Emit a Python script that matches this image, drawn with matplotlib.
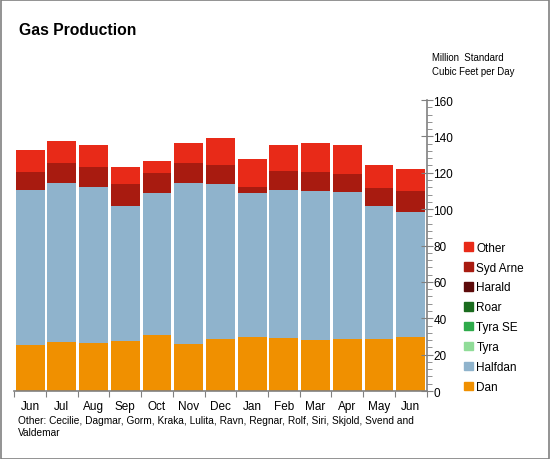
import matplotlib.pyplot as plt
from matplotlib.patches import Rectangle, Patch
from matplotlib.ticker import MultipleLocator
import numpy as np

plt.rcParams['font.family'] = ['Liberation Sans', 'DejaVu Sans']

months = ['Jun', 'Jul', 'Aug', 'Sep', 'Oct', 'Nov', 'Dec', 'Jan', 'Feb', 'Mar', 'Apr', 'May', 'Jun']

# stacked layers (million standard cubic feet per day)
dan      = [25.5, 26.9, 26.6, 27.7, 31.0, 25.8, 28.8, 29.9, 29.1, 28.0, 28.6, 28.6, 29.9]
halfdan  = [85.0, 87.4, 85.5, 74.0, 77.9, 88.5, 85.0, 79.0, 81.4, 81.9, 80.8, 73.1, 68.5]
tyra     = [0] * 13
tyra_se  = [0] * 13
roar     = [0] * 13
harald   = [0] * 13
syd_arne = [9.9, 11.0, 11.0, 12.1, 10.9, 11.0, 10.4, 3.2, 10.4, 10.5, 9.9, 9.9, 11.5]
other    = [12.1, 12.1, 12.1, 9.3, 6.6, 11.0, 14.8, 15.4, 14.3, 15.9, 15.9, 12.6, 12.1]

layers = [
    ('Dan', dan, '#F09000'),
    ('Halfdan', halfdan, '#8FB3CC'),
    ('Tyra', tyra, '#90DC98'),
    ('Tyra SE', tyra_se, '#2EAA4A'),
    ('Roar', roar, '#1A6B1E'),
    ('Harald', harald, '#5C0A0A'),
    ('Syd Arne', syd_arne, '#A81B10'),
    ('Other', other, '#E82A18'),
]

fig = plt.figure(figsize=(5.5, 4.6), dpi=100)
ax = fig.add_axes([0.026, 0.1478, 0.7495, 0.6326])

x = np.arange(len(months))
bottom = np.zeros(len(months))
for name, vals, col in layers:
    ax.bar(x, vals, bottom=bottom, width=0.91, color=col, linewidth=0)
    bottom += np.array(vals)

ax.set_xlim(-0.5, len(months) - 0.5)
ax.set_ylim(0, 160)

grey = '#808080'
for s in ['left', 'top']:
    ax.spines[s].set_visible(False)
for s in ['bottom', 'right']:
    ax.spines[s].set_color(grey)
    ax.spines[s].set_linewidth(1.2)

ax.yaxis.tick_right()
ax.yaxis.set_major_locator(MultipleLocator(20))
ax.yaxis.set_minor_locator(MultipleLocator(4))
ax.tick_params(axis='y', which='major', direction='inout', length=8, color=grey,
               labelsize=8.5, pad=1)
ax.tick_params(axis='y', which='minor', direction='out', length=3.5, color=grey)

ax.set_xticks(np.arange(-0.5, len(months), 1))
ax.set_xticklabels([])
ax.set_xticks(x, minor=True)
ax.set_xticklabels(months, minor=True)
ax.tick_params(axis='x', which='major', direction='out', length=4, color=grey)
ax.tick_params(axis='x', which='minor', length=0, labelsize=8.5, pad=6.5)

fig.text(19 / 550, 1 - 31 / 460, 'Gas Production', fontsize=11.3, fontweight='bold', va='center')
fig.text(432 / 550, 1 - 65 / 460, 'Million  Standard\nCubic Feet per Day', fontsize=6.9,
         va='center', linespacing=1.45)
fig.text(18 / 550, 1 - 427 / 460,
         'Other: Cecilie, Dagmar, Gorm, Kraka, Lulita, Ravn, Regnar, Rolf, Siri, Skjold, Svend and\nValdemar',
         fontsize=7.3, va='center', linespacing=1.3)

handles = [Patch(color=col, label=name) for name, vals, col in reversed(layers)]
fig.legend(handles=handles, loc='lower left', bbox_to_anchor=(464 / 550, 66 / 460),
           frameon=False, fontsize=8.5, handlelength=0.75, handleheight=0.75,
           handletextpad=0.3, labelspacing=0.67, borderpad=0, borderaxespad=0)

fig.patches.append(Rectangle((0.001, 0.001), 0.997, 0.997, transform=fig.transFigure,
                             fill=False, edgecolor=grey, linewidth=1.2))

fig.savefig('out.png', dpi=100)
